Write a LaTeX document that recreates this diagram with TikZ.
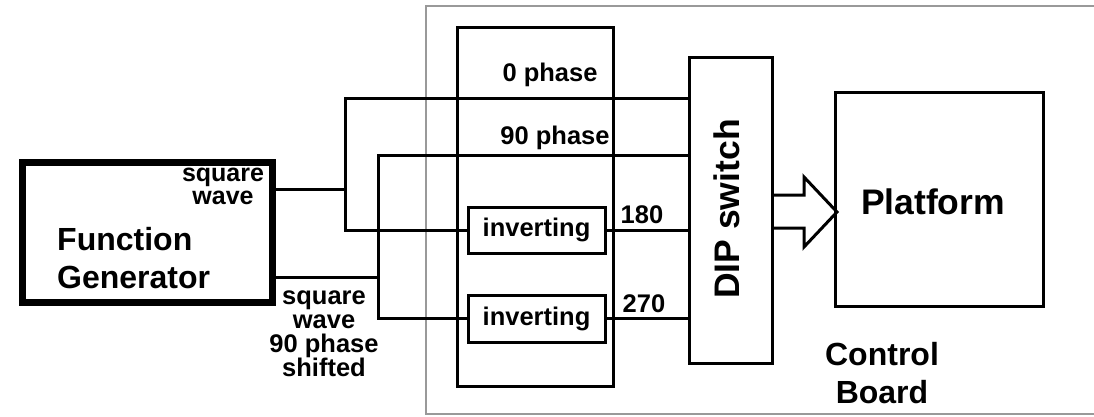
\documentclass[tikz,border=0pt]{standalone}
\usepackage{fontspec}
\setmainfont{Liberation Sans}
\usetikzlibrary{calc}
\begin{document}
\begin{tikzpicture}[x=1pt,y=-1pt,
  wire/.style={line width=3pt,black},
  box/.style={draw=black,line width=3pt,rectangle,inner sep=0pt},
  lbl/.style={font=\bfseries\fontsize{25.5}{25}\selectfont,inner sep=0pt,text=black},
  big/.style={font=\bfseries\fontsize{32}{38}\selectfont,inner sep=0pt,text=black},
  huge/.style={font=\bfseries\fontsize{35.5}{40}\selectfont,inner sep=0pt,text=black}]
\useasboundingbox (0,0) rectangle (1094,416);
\begin{scope}
\clip (0,0) rectangle (1094,416);
% control board outline (right edge lies outside the picture)
\node[draw=gray!80,line width=2pt,rectangle,inner sep=0pt,minimum width=674pt,minimum height=408pt] (board) at (763,210) {};
\end{scope}
% boxes
\node[box,line width=7pt,minimum width=250pt,minimum height=140pt] (fg) at (147,232) {};
\node[box,minimum width=156pt,minimum height=359pt] (mid) at (535,206.5) {};
\node[box,minimum width=83pt,minimum height=306pt] (dip) at (730.5,210) {};
\node[box,minimum width=208pt,minimum height=214pt] (plat) at (939,199) {};
\node[box,minimum width=137pt,minimum height=46pt,fill=white] (inv1) at (536.5,230) {};
\node[box,minimum width=137pt,minimum height=47pt,fill=white] (inv2) at (536.5,318.5) {};
% texts
\node[big,anchor=west,align=left] (fgt) at (57,258) {Function\\Generator};
\node[lbl,align=center,font=\bfseries\fontsize{25}{23}\selectfont] (sq1) at (223,186) {square\\wave};
\node[lbl,align=center,font=\bfseries\fontsize{25.5}{24}\selectfont] (sq2) at (324,334) {square\\wave\\90 phase\\shifted};
\node[lbl] (ph0) at (550,75) {0 phase};
\node[lbl] (ph90) at (555,138) {90 phase};
\node[lbl] (inv1t) at (inv1) {inverting};
\node[lbl] (inv2t) at (inv2) {inverting};
\node[lbl] (t180) at (642,215) {180};
\node[lbl] (t270) at (644,304) {270};
\node[huge,rotate=90] (dipt) at (727,209) {DIP switch};
\node[huge] (platt) at (933,202) {Platform};
\node[big,align=center] (cb) at (882,373) {Control\\Board};
% wires
\coordinate (a1) at (345,189);
\coordinate (j1top) at (345,98);
\coordinate (j1bot) at (345,230);
\draw[wire] (fg.east |- a1) -- (a1);
\draw[wire] (dip.west |- j1top) -- (j1top) -- (j1bot) -- (inv1.west);
\draw[wire] (inv1.east) -- (dip.west |- inv1.east);
\coordinate (b1) at (378,277);
\coordinate (j2top) at (378,155);
\draw[wire] (fg.east |- b1) -- (b1);
\draw[wire] (dip.west |- j2top) -- (j2top) -- (j2top |- inv2.west) -- (inv2.west);
\draw[wire] (inv2.east) -- (dip.west |- inv2.east);
% hollow arrow
\coordinate (tip) at (837,212);
\draw[wire,line join=miter] (dip.east |- 0,195) -- (804,195) -- (804,177) -- (tip) -- (804,247) -- (804,228) -- (dip.east |- 0,228);
\end{tikzpicture}
\end{document}
